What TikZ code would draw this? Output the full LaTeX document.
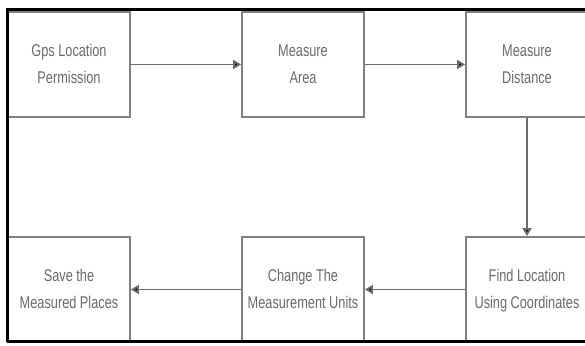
\documentclass[tikz,border=0pt]{standalone}
\usepackage{fontspec}
\setmainfont{Liberation Sans}
\usetikzlibrary{arrows.meta}
\newcommand{\twolines}[2]{\scalebox{0.75}[1]{\fontsize{17}{26.5}\selectfont\begin{tabular}{@{}c@{}}#1\\#2\end{tabular}}}
\tikzset{
  stepbox/.style={draw=black!50, line width=1.8pt, minimum width=122pt, minimum height=105pt, inner sep=0pt, text=black!58, anchor=center},
  flow/.style={draw=black!58, line width=1.8pt, -{Triangle[length=8pt,width=9pt,fill=black!90]}},
  frame/.style={draw=black, line width=3pt}
}
\begin{document}
\begin{tikzpicture}[x=1pt,y=-1pt]
\useasboundingbox (0,0) rectangle (585,345);
\clip (0,0) rectangle (585,345);
\fill[white] (0,0) rectangle (585,345);
\node[stepbox] (gps) at (69,64.5) {\twolines{Gps Location}{Permission}};
\node[stepbox] (area) at (303,64.5) {\twolines{Measure}{Area}};
\node[stepbox] (dist) at (527,64.5) {\twolines{Measure}{Distance}};
\node[stepbox] (find) at (527,289.5) {\twolines{Find Location}{Using Coordinates}};
\node[stepbox] (units) at (303,289.5) {\twolines{Change The}{Measurement Units}};
\node[stepbox] (save) at (69,289.5) {\twolines{Save the}{Measured Places}};
\draw[flow] (gps.east) -- (area.west);
\draw[flow] (area.east) -- (dist.west);
\draw[flow] (dist.south) -- (find.north);
\draw[flow] (find.west) -- (units.east);
\draw[flow] (units.west) -- (save.east);
\coordinate (tl) at (7,10);
\coordinate (tr) at (590,10);
\coordinate (bl) at (7,341.5);
\coordinate (br) at (590,341.5);
\draw[frame] (tr) -- (tl) -- (bl);
\draw[frame] (bl) -- (br);
\end{tikzpicture}
\end{document}
